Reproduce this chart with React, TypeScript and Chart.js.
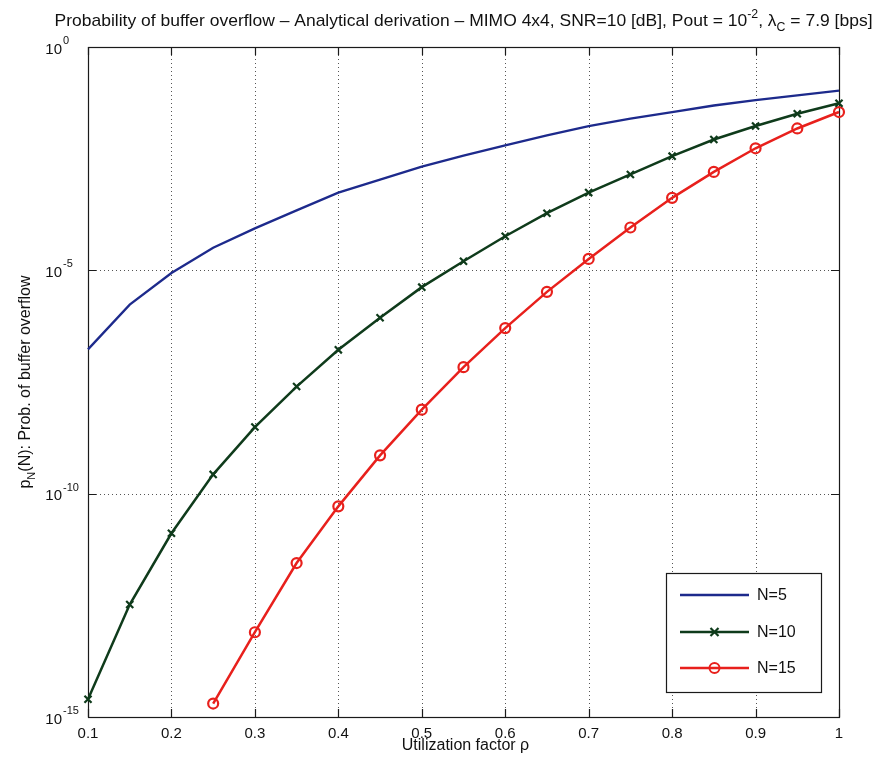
import React, { useEffect, useRef } from "react";
import { Chart, registerables } from "chart.js";

Chart.register(...registerables);

// ---- data ----
const RHO = [0.1, 0.15, 0.2, 0.25, 0.3, 0.35, 0.4, 0.45, 0.5, 0.55, 0.6, 0.65, 0.7, 0.75, 0.8, 0.85, 0.9, 0.95, 1.0];
const P_N5 = [1.7e-7, 1.7e-6, 8.7e-6, 3.2e-5, 8.7e-5, 2.2e-4, 5.5e-4, 1.07e-3, 2.1e-3, 3.7e-3, 6.3e-3, 1.05e-2, 1.7e-2, 2.5e-2, 3.5e-2, 4.9e-2, 6.5e-2, 8.3e-2, 1.05e-1];
const P_N10 = [2.5e-15, 3.3e-13, 1.3e-11, 2.7e-10, 3.1e-9, 2.5e-8, 1.66e-7, 8.7e-7, 4.2e-6, 1.6e-5, 5.8e-5, 1.9e-4, 5.5e-4, 1.4e-3, 3.6e-3, 8.5e-3, 1.7e-2, 3.2e-2, 5.5e-2];
const RHO_N15 = [0.25, 0.3, 0.35, 0.4, 0.45, 0.5, 0.55, 0.6, 0.65, 0.7, 0.75, 0.8, 0.85, 0.9, 0.95, 1.0];
const P_N15 = [2.0e-15, 7.9e-14, 2.8e-12, 5.2e-11, 7.2e-10, 7.6e-9, 6.8e-8, 5.1e-7, 3.3e-6, 1.8e-5, 9.1e-5, 4.2e-4, 1.6e-3, 5.4e-3, 1.5e-2, 3.5e-2];

const X_TICKS = [0.1, 0.2, 0.3, 0.4, 0.5, 0.6, 0.7, 0.8, 0.9, 1];
const X_TICK_LABELS = ["0.1", "0.2", "0.3", "0.4", "0.5", "0.6", "0.7", "0.8", "0.9", "1"];
const Y_TICKS = [1, 1e-5, 1e-10, 1e-15];
const Y_TICK_EXP = ["0", "-5", "-10", "-15"];
const SERIES_LABELS = ["N=5", "N=10", "N=15"];

const FONT = '"Liberation Sans", Arial, Helvetica, sans-serif';
const BLUE = "#1d2a8c";
const GREEN = "#0f3b1b";
const RED = "#e8201c";

type Seg = { t: string; k?: "sup" | "sub" };

function richWidth(ctx: CanvasRenderingContext2D, segs: Seg[], size: number) {
  let w = 0;
  for (const s of segs) {
    const fs = s.k ? Math.round(size * 0.7) : size;
    ctx.font = `${fs}px ${FONT}`;
    w += ctx.measureText(s.t).width;
  }
  return w;
}

function drawRich(ctx: CanvasRenderingContext2D, segs: Seg[], x: number, baseline: number, size: number) {
  let cx = x;
  ctx.textAlign = "left";
  ctx.textBaseline = "alphabetic";
  for (const s of segs) {
    const fs = s.k ? Math.round(size * 0.7) : size;
    ctx.font = `${fs}px ${FONT}`;
    const dy = s.k === "sup" ? -size * 0.5 : s.k === "sub" ? size * 0.3 : 0;
    ctx.fillText(s.t, cx, baseline + dy);
    cx += ctx.measureText(s.t).width;
  }
}

const decorPlugin = {
  id: "decor",
  beforeDraw(chart: any) {
    const ctx = chart.ctx as CanvasRenderingContext2D;
    ctx.save();
    ctx.fillStyle = "#ffffff";
    ctx.fillRect(0, 0, chart.width, chart.height);
    ctx.restore();
  },
  beforeDatasetsDraw(chart: any) {
    const ctx = chart.ctx as CanvasRenderingContext2D;
    const { left, right, top, bottom } = chart.chartArea;
    const xs = chart.scales.x;
    const ys = chart.scales.y;
    ctx.save();
    ctx.strokeStyle = "#555555";
    ctx.lineWidth = 1;
    ctx.setLineDash([1, 3]);
    for (const v of X_TICKS) {
      const px = Math.round(xs.getPixelForValue(v)) + 0.5;
      if (px <= left + 1 || px >= right - 1) continue;
      ctx.beginPath();
      ctx.moveTo(px, top);
      ctx.lineTo(px, bottom);
      ctx.stroke();
    }
    for (const v of Y_TICKS) {
      const py = Math.round(ys.getPixelForValue(v)) + 0.5;
      if (py <= top + 1 || py >= bottom - 1) continue;
      ctx.beginPath();
      ctx.moveTo(left, py);
      ctx.lineTo(right, py);
      ctx.stroke();
    }
    // axes box (drawn before data so markers can overlap it)
    ctx.setLineDash([]);
    ctx.strokeStyle = "#1a1a1a";
    ctx.lineWidth = 1.2;
    ctx.strokeRect(Math.round(left) + 0.5, Math.round(top) + 0.5, Math.round(right - left), Math.round(bottom - top));
    const TL = 8;
    ctx.beginPath();
    for (const v of X_TICKS) {
      const px = Math.round(xs.getPixelForValue(v)) + 0.5;
      ctx.moveTo(px, bottom);
      ctx.lineTo(px, bottom - TL);
      ctx.moveTo(px, top);
      ctx.lineTo(px, top + TL);
    }
    for (const v of Y_TICKS) {
      const py = Math.round(ys.getPixelForValue(v)) + 0.5;
      ctx.moveTo(left, py);
      ctx.lineTo(left + TL, py);
      ctx.moveTo(right, py);
      ctx.lineTo(right - TL, py);
    }
    ctx.stroke();
    ctx.restore();
  },
  afterDraw(chart: any) {
    const ctx = chart.ctx as CanvasRenderingContext2D;
    const { left, right, top, bottom } = chart.chartArea;
    const xs = chart.scales.x;
    const ys = chart.scales.y;
    ctx.save();
    ctx.fillStyle = "#111111";
    // x tick labels
    ctx.font = `15px ${FONT}`;
    ctx.textAlign = "center";
    ctx.textBaseline = "middle";
    X_TICKS.forEach((v, i) => {
      ctx.fillText(X_TICK_LABELS[i], xs.getPixelForValue(v), bottom + 17);
    });
    // y tick labels 10^e
    Y_TICKS.forEach((v, i) => {
      const py = ys.getPixelForValue(v);
      ctx.font = `15px ${FONT}`;
      ctx.textAlign = "right";
      ctx.textBaseline = "alphabetic";
      ctx.fillText("10", 62, py + 6.5);
      ctx.font = `11px ${FONT}`;
      ctx.textAlign = "left";
      ctx.fillText(Y_TICK_EXP[i], 63, py - 3);
    });
    // x axis title
    ctx.font = `16px ${FONT}`;
    ctx.textAlign = "center";
    ctx.textBaseline = "alphabetic";
    ctx.fillText("Utilization factor \u03c1", (left + right) / 2 + 2, 750);

    // y axis title (rotated)
    const ySegs: Seg[] = [{ t: "p" }, { t: "N", k: "sub" }, { t: "(N): Prob. of buffer overflow" }];
    const yw = richWidth(ctx, ySegs, 16);
    ctx.save();
    ctx.translate(30, (top + bottom) / 2);
    ctx.rotate(-Math.PI / 2);
    drawRich(ctx, ySegs, -yw / 2, 0, 16);
    ctx.restore();

    // title
    const tSegs: Seg[] = [
      { t: "Probability of buffer overflow \u2013 Analytical derivation \u2013 MIMO 4x4, SNR=10 [dB], Pout = 10" },
      { t: "-2", k: "sup" },
      { t: ", \u03bb" },
      { t: "C", k: "sub" },
      { t: " = 7.9 [bps]" },
    ];
    const tw = richWidth(ctx, tSegs, 17);
    const target = 818;
    const sx = target / tw;
    ctx.save();
    ctx.translate((left + right) / 2 - target / 2, 26);
    ctx.scale(sx, 1);
    drawRich(ctx, tSegs, 0, 0, 17);
    ctx.restore();

    // legend
    const lx0 = 666, ly0 = 573, lx1 = 821, ly1 = 692;
    ctx.fillStyle = "#ffffff";
    ctx.fillRect(lx0, ly0, lx1 - lx0, ly1 - ly0);
    ctx.strokeStyle = "#1a1a1a";
    ctx.lineWidth = 1.2;
    ctx.strokeRect(lx0 + 0.5, ly0 + 0.5, lx1 - lx0, ly1 - ly0);
    const rows = [595, 632, 668];
    chart.data.datasets.forEach((ds: any, i: number) => {
      const y = rows[i];
      ctx.strokeStyle = ds.borderColor;
      ctx.lineWidth = ds.borderWidth;
      ctx.beginPath();
      ctx.moveTo(680, y);
      ctx.lineTo(749, y);
      ctx.stroke();
      const mx = 714.5;
      if (ds.pointStyle === "crossRot") {
        const r = 4;
        ctx.lineWidth = 2.2;
        ctx.beginPath();
        ctx.moveTo(mx - r, y - r);
        ctx.lineTo(mx + r, y + r);
        ctx.moveTo(mx - r, y + r);
        ctx.lineTo(mx + r, y - r);
        ctx.stroke();
      } else if (ds.pointStyle === "circle" && ds.pointRadius > 0) {
        ctx.lineWidth = 2;
        ctx.beginPath();
        ctx.arc(mx, y, 5, 0, Math.PI * 2);
        ctx.stroke();
      }
      ctx.fillStyle = "#111111";
      ctx.font = `16px ${FONT}`;
      ctx.textAlign = "left";
      ctx.textBaseline = "middle";
      ctx.fillText(ds.label, 757, y + 1);
    });
    ctx.restore();
  },
};

export default function App() {
  const ref = useRef<HTMLCanvasElement | null>(null);
  useEffect(() => {
    document.body.style.margin = "0";
    const canvas = ref.current!;
    const chart = new Chart(canvas, {
      type: "line",
      data: {
        datasets: [
          {
            label: SERIES_LABELS[0],
            data: RHO.map((x, i) => ({ x, y: P_N5[i] })),
            borderColor: BLUE,
            backgroundColor: BLUE,
            borderWidth: 2.3,
            pointRadius: 0,
            pointStyle: "circle",
            tension: 0,
            fill: false,
            clip: false,
          },
          {
            label: SERIES_LABELS[1],
            data: RHO.map((x, i) => ({ x, y: P_N10[i] })),
            borderColor: GREEN,
            backgroundColor: GREEN,
            borderWidth: 2.5,
            pointRadius: 5,
            pointStyle: "crossRot",
            pointBorderWidth: 2.2,
            pointBorderColor: GREEN,
            tension: 0,
            fill: false,
            clip: false,
          },
          {
            label: SERIES_LABELS[2],
            data: RHO_N15.map((x, i) => ({ x, y: P_N15[i] })),
            borderColor: RED,
            backgroundColor: "rgba(0,0,0,0)",
            borderWidth: 2.5,
            pointRadius: 5,
            pointStyle: "circle",
            pointBorderWidth: 2.2,
            pointBorderColor: RED,
            pointBackgroundColor: "rgba(0,0,0,0)",
            tension: 0,
            fill: false,
            clip: false,
          },
        ],
      },
      options: {
        animation: false,
        responsive: false,
        devicePixelRatio: 1,
        layout: { padding: { left: 0, top: 47, right: 39, bottom: 0 } },
        plugins: {
          legend: { display: false },
          title: { display: false },
          tooltip: { enabled: false },
        },
        scales: {
          x: {
            type: "linear",
            min: 0.1,
            max: 1,
            ticks: { display: false },
            grid: { display: false },
            border: { display: false },
            afterBuildTicks: (s: any) => {
              s.ticks = X_TICKS.map((v) => ({ value: v }));
            },
            afterFit: (s: any) => {
              s.height = 49;
              s.paddingLeft = 0;
              s.paddingRight = 0;
            },
          },
          y: {
            type: "logarithmic",
            min: 1e-15,
            max: 1,
            ticks: { display: false },
            grid: { display: false },
            border: { display: false },
            afterBuildTicks: (s: any) => {
              s.ticks = Y_TICKS.map((v) => ({ value: v }));
            },
            afterFit: (s: any) => {
              s.width = 88;
              s.paddingTop = 0;
              s.paddingBottom = 0;
            },
          },
        },
      } as any,
      plugins: [decorPlugin],
    });
    return () => chart.destroy();
  }, []);
  return (
    <div style={{ position: "absolute", left: 0, top: 0, width: 878, height: 766 }}>
      <canvas ref={ref} width={878} height={766} style={{ display: "block" }} />
    </div>
  );
}
